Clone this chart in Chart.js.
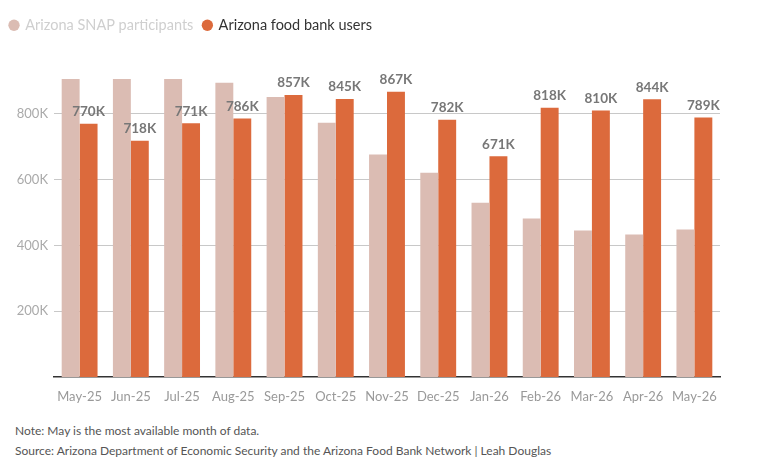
<!DOCTYPE html>
<html lang="en">
<head>
    <meta charset="UTF-8">
    <title>Arizona SNAP participants vs food bank users</title>
    <script src="https://cdn.jsdelivr.net/npm/chart.js"></script>
    <style>
        body { margin: 0; background: #fff; font-family: Lato, "Open Sans", sans-serif; }
        #wrap { position: relative; width: 765px; height: 410px; }
        .foot { font-size: 12px; color: #555; margin-left: 15px; line-height: 20px; }
    </style>
</head>
<body>
    <div id="wrap"><canvas id="myChart"></canvas></div>
    <div class="foot" style="margin-top:11px">Note: May is the most available month of data.</div>
    <div class="foot">Source: Arizona Department of Economic Security and the Arizona Food Bank Network | Leah Douglas</div>

    <script>
        const months = ['May-25', 'Jun-25', 'Jul-25', 'Aug-25', 'Sep-25', 'Oct-25', 'Nov-25',
                        'Dec-25', 'Jan-26', 'Feb-26', 'Mar-26', 'Apr-26', 'May-26'];
        const snapParticipants = [906000, 906000, 906000, 894000, 851000, 773000, 676000,
                                  621000, 530000, 482000, 445000, 433000, 448000];
        const foodBankUsers = [770000, 718000, 771000, 786000, 857000, 845000, 867000,
                               782000, 671000, 818000, 810000, 844000, 789000];
        const yTicks = [200000, 400000, 600000, 800000];

        const snapColor = '#dbbcb3';
        const bankColor = '#dc6a3c';

        // 막대 위에 값 표시
        const valueLabels = {
            id: 'valueLabels',
            afterDatasetsDraw(chart) {
                const ctx = chart.ctx;
                const meta = chart.getDatasetMeta(1);
                ctx.save();
                ctx.font = 'bold 13.5px Lato, sans-serif';
                ctx.fillStyle = '#777';
                ctx.textAlign = 'center';
                ctx.textBaseline = 'middle';
                meta.data.forEach((bar, i) => {
                    ctx.fillText(Math.round(foodBankUsers[i] / 1000) + 'K', bar.x, bar.y - 12);
                });
                ctx.restore();
            }
        };

        const legendHeight = {
            id: 'legendHeight',
            beforeInit(chart) {
                const fit = chart.legend.fit;
                chart.legend.fit = function () {
                    fit.call(this);
                    this.height = 65;
                };
            }
        };

        new Chart(document.getElementById('myChart'), {
            type: 'bar',
            data: {
                labels: months,
                datasets: [
                    { label: 'Arizona SNAP participants', data: snapParticipants, backgroundColor: snapColor },
                    { label: 'Arizona food bank users', data: foodBankUsers, backgroundColor: bankColor }
                ]
            },
            options: {
                responsive: true,
                maintainAspectRatio: false,
                animation: false,
                categoryPercentage: 0.7,
                barPercentage: 1.0,
                layout: { padding: { top: 8, right: 45, left: 0, bottom: 0 } },
                plugins: {
                    tooltip: { enabled: false },
                    legend: {
                        position: 'top',
                        align: 'start',
                        labels: {
                            usePointStyle: true,
                            pointStyle: 'circle',
                            boxWidth: 8,
                            boxHeight: 8,
                            padding: 10,
                            font: { size: 14.5, family: 'Lato, sans-serif' },
                            generateLabels(chart) {
                                return chart.data.datasets.map((ds, i) => ({
                                    text: ds.label,
                                    fillStyle: ds.backgroundColor,
                                    strokeStyle: ds.backgroundColor,
                                    lineWidth: 0,
                                    pointStyle: 'circle',
                                    fontColor: i === 0 ? '#cfcfcf' : '#333',
                                    datasetIndex: i
                                }));
                            }
                        }
                    }
                },
                scales: {
                    x: {
                        grid: { display: false },
                        border: { color: '#333', width: 1.5 },
                        ticks: { color: '#999', font: { size: 13, family: 'Lato, sans-serif' }, padding: 4, maxRotation: 0, autoSkip: false },
                        afterFit(scale) { scale.height = 33; }
                    },
                    y: {
                        min: 0,
                        max: 924000,
                        afterBuildTicks(scale) {
                            scale.ticks = yTicks.map(v => ({ value: v }));
                        },
                        afterFit(scale) { scale.width = 54; },
                        border: { display: false },
                        grid: { color: '#c8c8c8', drawTicks: false },
                        ticks: {
                            color: '#aaa',
                            padding: 6,
                            font: { size: 13, family: 'Lato, sans-serif' },
                            callback: v => (v / 1000) + 'K'
                        }
                    }
                }
            },
            plugins: [valueLabels, legendHeight]
        });
    </script>
</body>
</html>
